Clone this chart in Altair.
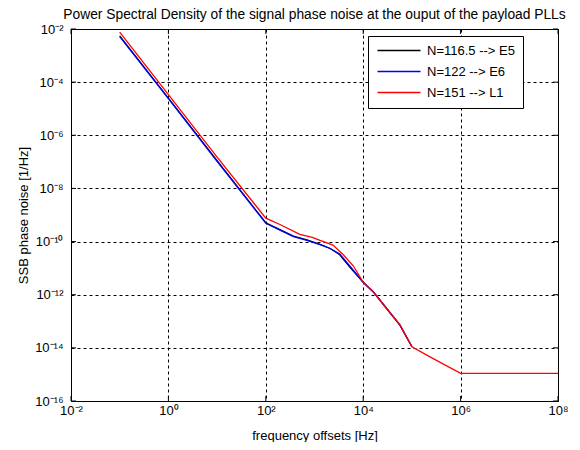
import math
import altair as alt
import pandas as pd

FONT = "Liberation Sans"

series_names = ["N=116.5 --> E5", "N=122 --> E6", "N=151 --> L1"]
series_colors = ["#000000", "#0000ff", "#ff0000"]

# frequency offsets [Hz] and SSB phase noise [1/Hz]
freq_e5 = [0.1, 1, 10, 100, 200, 370, 700, 1300, 2100, 3300, 5300, 10000,
           16000, 30000, 57000, 100000]
psd_e5 = [5.5e-3, 2.5e-5, 1.1e-7, 5.1e-10, 2.75e-10, 1.6e-10, 1.15e-10, 7.8e-11,
          5.5e-11, 3.2e-11, 1.1e-11, 2.95e-12, 1.3e-12, 3.1e-13, 7.2e-14, 1.1e-14]

freq_e6 = [0.1, 1, 10, 100, 200, 370, 700, 1300, 2100, 3300, 5300, 10000,
           16000, 30000, 57000, 100000]
psd_e6 = [5.2e-3, 2.4e-5, 1.05e-7, 4.9e-10, 2.65e-10, 1.55e-10, 1.12e-10, 7.7e-11,
          5.5e-11, 3.4e-11, 1.2e-11, 2.95e-12, 1.3e-12, 3.1e-13, 7.2e-14, 1.1e-14]

freq_l1 = [0.1, 1, 10, 100, 200, 500, 900, 1300, 2400, 3900, 6300, 10000,
           16000, 30000, 57000, 100000, 230000, 1000000, 100000000]
psd_l1 = [7.6e-3, 3.4e-5, 1.5e-7, 7.6e-10, 4.3e-10, 1.86e-10, 1.45e-10, 1.1e-10,
          7.4e-11, 3.2e-11, 1.2e-11, 2.95e-12, 1.3e-12, 3.1e-13, 7.2e-14, 1.1e-14,
          4.7e-15, 1.1e-15, 1.1e-15]

x_ticks = [1e-2, 1e0, 1e2, 1e4, 1e6, 1e8]
x_tick_labels = ["10⁻²", "10⁰", "10²", "10⁴", "10⁶", "10⁸"]
y_ticks = [1e-16, 1e-14, 1e-12, 1e-10, 1e-8, 1e-6, 1e-4, 1e-2]
y_tick_labels = ["10⁻¹⁶", "10⁻¹⁴", "10⁻¹²", "10⁻¹⁰", "10⁻⁸", "10⁻⁶", "10⁻⁴", "10⁻²"]

rows = []
for name, fr, ps in [(series_names[0], freq_e5, psd_e5),
                     (series_names[1], freq_e6, psd_e6),
                     (series_names[2], freq_l1, psd_l1)]:
    for f, p in zip(fr, ps):
        rows.append({"series": name, "freq": f, "psd": p})
df = pd.DataFrame(rows)


def label_expr(ticks, labels):
    parts = []
    for t, lab in zip(ticks, labels):
        e = int(round(math.log10(t)))
        parts.append(f"round(log(datum.value)/LN10) == {e} ? '{lab}' : ")
    return "".join(parts) + "''"


W, H = 487, 372

xscale = alt.Scale(type="log", domain=[1e-2, 1e8], nice=False)
yscale = alt.Scale(type="log", domain=[1e-16, 1e-2], nice=False)

common_axis = dict(grid=True, gridColor="black", gridDash=[3, 3], gridOpacity=1,
                   gridWidth=1, domain=False, ticks=False,
                   labelFont=FONT, labelFontSize=13, labelColor="black",
                   titleFont=FONT, titleFontSize=13, titleFontWeight="normal",
                   titleColor="black")
x_axis = alt.Axis(values=x_ticks, labelExpr=label_expr(x_ticks, x_tick_labels),
                  title="frequency offsets [Hz]", labelPadding=3, titlePadding=12,
                  labelFlush=False, labelOverlap=False, **common_axis)
y_axis = alt.Axis(values=y_ticks, labelExpr=label_expr(y_ticks, y_tick_labels),
                  title="SSB phase noise [1/Hz]", labelPadding=8, titlePadding=4,
                  labelFlush=False, labelOverlap=False, **common_axis)

color = alt.Color(
    "series:N",
    scale=alt.Scale(domain=series_names, range=series_colors),
    legend=alt.Legend(title=None, orient="none", legendX=297, legendY=7,
                      fillColor="white", strokeColor="black", padding=8,
                      labelFont=FONT, labelFontSize=13, labelColor="black",
                      symbolType="M-1,0H7.6", symbolSize=100, symbolStrokeWidth=1.3,
                      labelOffset=38, rowPadding=7),
)

layers = []
for name in series_names:
    layers.append(
        alt.Chart(df).transform_filter(alt.datum.series == name)
        .mark_line(strokeWidth=1.3, clip=True)
        .encode(x=alt.X("freq:Q", scale=xscale, axis=x_axis),
                y=alt.Y("psd:Q", scale=yscale, axis=y_axis),
                color=color)
    )

xt = pd.DataFrame({"t": x_ticks})
yt = pd.DataFrame({"t": y_ticks})
tick_layers = [
    alt.Chart(xt).mark_rule(color="black", strokeWidth=1).encode(
        x=alt.X("t:Q", scale=xscale, axis=x_axis), y=alt.value(0), y2=alt.value(5)),
    alt.Chart(xt).mark_rule(color="black", strokeWidth=1).encode(
        x=alt.X("t:Q", scale=xscale, axis=x_axis), y=alt.value(H), y2=alt.value(H - 5)),
    alt.Chart(yt).mark_rule(color="black", strokeWidth=1).encode(
        y=alt.Y("t:Q", scale=yscale, axis=y_axis), x=alt.value(0), x2=alt.value(5)),
    alt.Chart(yt).mark_rule(color="black", strokeWidth=1).encode(
        y=alt.Y("t:Q", scale=yscale, axis=y_axis), x=alt.value(W), x2=alt.value(W - 5)),
]

chart = alt.layer(*tick_layers, *layers).properties(
    width=W, height=H,
    autosize=alt.AutoSizeParams(type="none"),
    padding={"left": 63, "top": 21, "right": 14, "bottom": 41},
    title=alt.TitleParams(
        "Power Spectral Density of the signal phase noise at the ouput of the payload PLLs",
        font=FONT, fontSize=13.8, fontWeight="normal", color="black",
        anchor="middle", baseline="bottom", offset=-13, frame="group"),
    background="white",
).configure_view(stroke="black", strokeWidth=1)

chart.save("out.html", embed_options={"renderer": "svg", "actions": False})
